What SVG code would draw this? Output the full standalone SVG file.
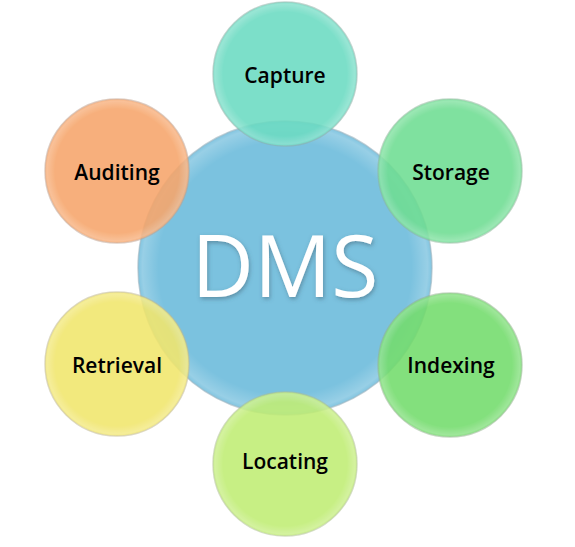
<svg xmlns="http://www.w3.org/2000/svg" width="575" height="547" viewBox="0 0 575 547">
<defs>
<radialGradient id="g" cx="50%" cy="50%" r="50%">
<stop offset="0.86" stop-color="#fff" stop-opacity="0"/>
<stop offset="0.97" stop-color="#fff" stop-opacity="0.22"/>
<stop offset="1" stop-color="#fff" stop-opacity="0.05"/>
</radialGradient>
<filter id="sh" x="-20%" y="-20%" width="140%" height="140%">
<feDropShadow dx="1" dy="2" stdDeviation="2" flood-color="#3a5a6a" flood-opacity="0.5"/>
</filter>
</defs>
<style>
.c{stroke-width:1.5;stroke-opacity:0.6}
.sat{opacity:0.88}
.lbl{font-family:"Open Sans","Noto Sans",sans-serif;font-size:21px;font-weight:600;fill:#000;text-anchor:middle}
.dms{font-family:"Open Sans","Noto Sans",sans-serif;font-size:86px;fill:#fff;text-anchor:middle}
</style>
<g id="connectors"/>
<g id="dms">
<circle cx="285" cy="268" r="147" fill="#7bc2df" stroke="#9ab0bc" class="c"/>
<circle cx="285" cy="268" r="147" fill="url(#g)"/>
<text x="285" y="297" class="dms" filter="url(#sh)">DMS</text>
</g>
<g id="capture" class="sat">
<circle cx="285" cy="74" r="72" fill="#6bdbc2" stroke="#8cb0a6" class="c"/>
<circle cx="285" cy="74" r="72" fill="url(#g)"/>
</g>
<g id="storage" class="sat">
<circle cx="450" cy="171" r="72" fill="#6edd92" stroke="#8cb89a" class="c"/>
<circle cx="450" cy="171" r="72" fill="url(#g)"/>
</g>
<g id="indexing" class="sat">
<circle cx="450" cy="365" r="72" fill="#73dc6c" stroke="#92b48e" class="c"/>
<circle cx="450" cy="365" r="72" fill="url(#g)"/>
</g>
<g id="locating" class="sat">
<circle cx="285" cy="464" r="72" fill="#c0ed74" stroke="#aec090" class="c"/>
<circle cx="285" cy="464" r="72" fill="url(#g)"/>
</g>
<g id="retrieval" class="sat">
<circle cx="117" cy="364" r="72" fill="#f1e66c" stroke="#c0b890" class="c"/>
<circle cx="117" cy="364" r="72" fill="url(#g)"/>
</g>
<g id="auditing" class="sat">
<circle cx="117" cy="171" r="72" fill="#f7a56a" stroke="#c0a290" class="c"/>
<circle cx="117" cy="171" r="72" fill="url(#g)"/>
</g>
<g id="labels">
<text x="285" y="83" class="lbl">Capture</text>
<text x="451" y="180" class="lbl">Storage</text>
<text x="451" y="373" class="lbl">Indexing</text>
<text x="285" y="469" class="lbl">Locating</text>
<text x="117" y="373" class="lbl">Retrieval</text>
<text x="117" y="180" class="lbl">Auditing</text>
</g>
</svg>
